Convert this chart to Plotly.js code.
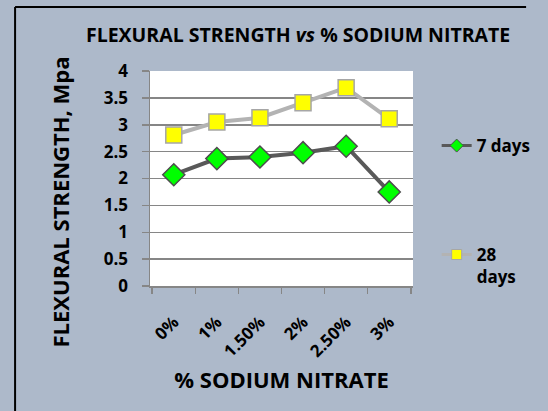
<!DOCTYPE html>
<html>
<head>
<meta charset="utf-8">
<script src="https://cdn.plot.ly/plotly-3.0.1.min.js"></script>
<style>
  html, body { margin: 0; padding: 0; background: #ADB9CA; }
  #chart { width: 548px; height: 411px; }
</style>
</head>
<body>
<div id="chart"></div>
<script>
// Sodium nitrate dosage (x categories)
const dosage = ['0%', '1%', '1.50%', '2%', '2.50%', '3%'];
// Flexural strength, MPa
const strength7 = [2.07, 2.37, 2.40, 2.48, 2.60, 1.75];
const strength28 = [2.81, 3.05, 3.13, 3.41, 3.69, 3.11];
const yTicks = [0, 0.5, 1, 1.5, 2, 2.5, 3, 3.5, 4];
const yTickText = ['0', '0.5', '1', '1.5', '2', '2.5', '3', '3.5', '4'];

const FONT = 'Open Sans, Noto Sans, sans-serif';

const style7 = { line: '#595959', fill: '#00FF00', edge: '#4D4D4D' };
const style28 = { line: '#B3B3B3', fill: '#FFFF00', edge: '#A6A6A6' };

const traces = [
  {
    x: dosage, y: strength7, type: 'scatter', mode: 'lines+markers',
    name: '7 days', showlegend: false,
    line: { color: style7.line, width: 4 },
    marker: { symbol: 'diamond', size: 17, color: style7.fill, line: { color: style7.edge, width: 1.5 } }
  },
  {
    x: dosage, y: strength28, type: 'scatter', mode: 'lines+markers',
    name: '28 days', showlegend: false,
    line: { color: style28.line, width: 4 },
    marker: { symbol: 'square', size: 16, color: style28.fill, line: { color: style28.edge, width: 1.5 } }
  },
  // legend entries with smaller key symbols
  {
    x: [null], y: [null], type: 'scatter', mode: 'lines+markers',
    name: '7 days', legend: 'legend',
    line: { color: style7.line, width: 3 },
    marker: { symbol: 'diamond', size: 10, color: style7.fill, line: { color: style7.edge, width: 1 } }
  },
  {
    x: [null], y: [null], type: 'scatter', mode: 'lines+markers',
    name: '28<br>days', legend: 'legend2',
    line: { color: style28.line, width: 3 },
    marker: { symbol: 'square', size: 10, color: style28.fill, line: { color: style28.edge, width: 1 } }
  }
];

const legendBase = {
  bgcolor: 'rgba(0,0,0,0)',
  font: { family: FONT, size: 17, color: '#000', weight: 'bold' },
  xanchor: 'left', x: 1.09, itemwidth: 30, valign: 'top'
};

const layout = {
  width: 548, height: 411,
  paper_bgcolor: '#ADB9CA',
  plot_bgcolor: '#FFFFFF',
  margin: { l: 150, r: 119, t: 71, b: 125 },
  font: { family: FONT, color: '#000' },
  title: {
    text: 'FLEXURAL STRENGTH <i>vs</i> % SODIUM NITRATE',
    font: { family: FONT, size: 19.5, color: '#000', weight: 'bold' },
    x: 0.544, xanchor: 'center', y: 0.915, yanchor: 'middle'
  },
  xaxis: {
    type: 'category',
    tickvals: dosage, ticktext: dosage,
    tickangle: -45,
    tickfont: { family: FONT, size: 17, color: '#000', weight: 'bold' },
    ticks: 'outside', tickson: 'boundaries', ticklen: 6, tickcolor: '#868686', tickwidth: 1.5,
    ticklabelstandoff: 18,
    showline: true, linecolor: '#868686', linewidth: 1.5,
    showgrid: false, zeroline: false,
    title: { text: '% SODIUM NITRATE', font: { family: FONT, size: 22, color: '#000', weight: 'bold' }, standoff: 12 }
  },
  yaxis: {
    range: [0, 4],
    tickvals: yTicks, ticktext: yTickText,
    tickfont: { family: FONT, size: 17, color: '#000', weight: 'bold' },
    ticks: 'outside', ticklen: 7, tickcolor: '#868686', tickwidth: 1.5,
    ticklabelstandoff: 10,
    showline: true, linecolor: '#868686', linewidth: 1.5,
    showgrid: true, gridcolor: '#868686', gridwidth: 1.5,
    zeroline: false
  },
  annotations: [
    {
      text: 'FLEXURAL STRENGTH, Mpa', textangle: -90, showarrow: false,
      xref: 'paper', yref: 'paper', x: -0.344, y: 0.391, xanchor: 'center', yanchor: 'middle',
      font: { family: FONT, size: 22, color: '#000', weight: 'bold' }
    }
  ],
  legend: Object.assign({}, legendBase, { y: 0.651, yanchor: 'middle' }),
  legend2: Object.assign({}, legendBase, { y: 0.228, yanchor: 'top' }),
  shapes: [
    { type: 'line', xref: 'paper', yref: 'paper', x0: -0.513, x1: 1.43, y0: 1.298, y1: 1.298, line: { color: '#000', width: 2 } },
    { type: 'line', xref: 'paper', yref: 'paper', x0: -0.513, x1: -0.513, y0: 1.298, y1: -0.6, line: { color: '#000', width: 2 } }
  ],
  showlegend: true
};

Plotly.newPlot('chart', traces, layout, { displayModeBar: false, staticPlot: true });
</script>
</body>
</html>
